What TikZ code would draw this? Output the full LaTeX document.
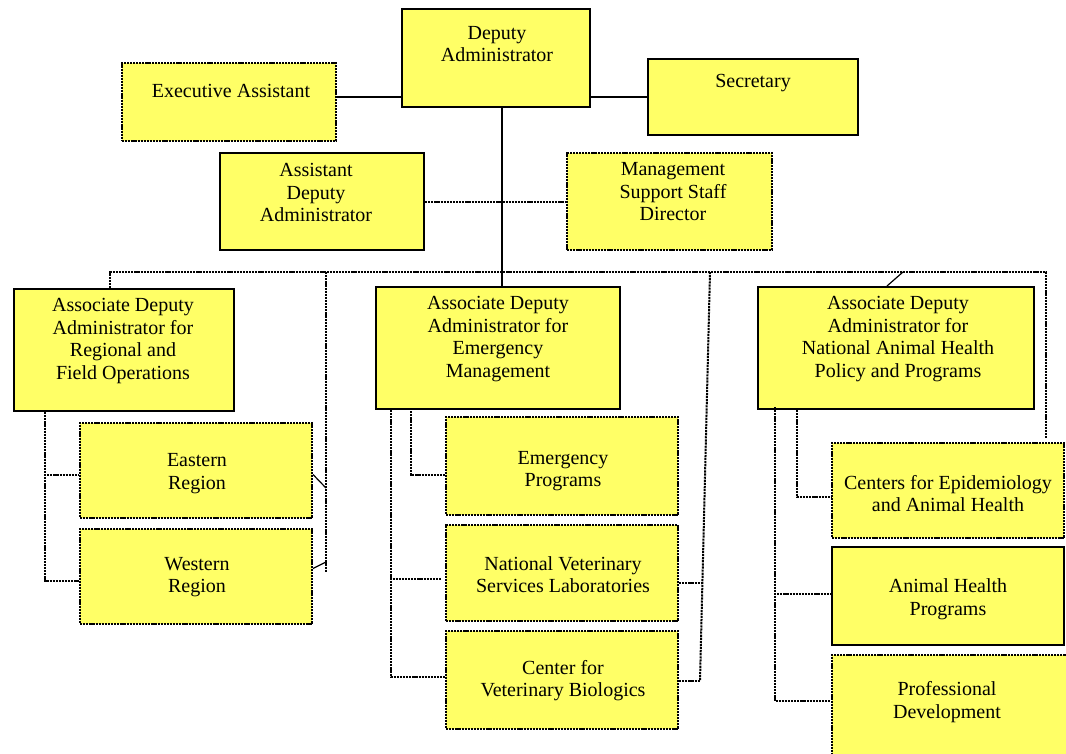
\documentclass[tikz,border=0pt]{standalone}
\usepackage{fontspec}
\setmainfont{Liberation Serif}
\usetikzlibrary{calc}
\definecolor{boxyellow}{RGB}{255,255,102}
\begin{document}
\begin{tikzpicture}[x=1pt,y=-1pt,
  boxbase/.style={rectangle, fill=boxyellow, inner sep=0pt},
  solidbox/.style={boxbase, draw=black, line width=2pt},
  dotbox/.style={boxbase, draw=black, line width=2pt, dash pattern=on 2.2pt off 0.9pt},
  txt/.style={align=center, font=\fontsize{20}{22.5}\selectfont, inner sep=0pt, text=black},
  conn/.style={draw=black, line width=2pt},
  dotconn/.style={draw=black, line width=2pt, dash pattern=on 2.2pt off 0.9pt},
  thinconn/.style={draw=black, line width=1.2pt}]
\useasboundingbox (0,0) rectangle (1066,753);
\clip (0,0) rectangle (1066,753);
\fill[white] (0,0) rectangle (1066,753);

% ---- boxes ----
\node[solidbox, minimum width=188pt, minimum height=98pt] (dep) at (496,58) {};
\node[txt] (depT) at (497,44) {Deputy\\Administrator};

\node[dotbox, minimum width=214pt, minimum height=78pt] (exe) at (229,102) {};
\node[txt] (exeT) at (231,91) {Executive Assistant};

\node[solidbox, minimum width=210pt, minimum height=76pt] (sec) at (753,97) {};
\node[txt] (secT) at (753,83) {Secretary};

\node[solidbox, minimum width=204pt, minimum height=97pt] (ada) at (322,201.5) {};
\node[txt] (adaT) at (316,192.5) {Assistant\\Deputy\\Administrator};

\node[dotbox, minimum width=205pt, minimum height=97pt] (mss) at (669.5,201.5) {};
\node[txt] (mssT) at (673,192) {Management\\Support Staff\\Director};

\node[solidbox, minimum width=220pt, minimum height=122pt] (adr) at (124,350) {};
\node[txt] (adrT) at (123,341) {Associate Deputy\\Administrator for\\Regional and\\Field Operations};

\node[dotbox, minimum width=232pt, minimum height=95pt] (east) at (196,470.5) {};
\node[txt] (eastT) at (197,473.5) {Eastern\\Region};

\node[dotbox, minimum width=232pt, minimum height=95pt] (west) at (196,576.5) {};
\node[txt] (westT) at (197,577) {Western\\Region};

\node[solidbox, minimum width=244pt, minimum height=122pt] (adem) at (498,348) {};
\node[txt] (ademT) at (498,339) {Associate Deputy\\Administrator for\\Emergency\\Management};

\node[dotbox, minimum width=232pt, minimum height=98pt] (ep) at (562,466) {};
\node[txt] (epT) at (563,471) {Emergency\\Programs};

\node[dotbox, minimum width=232pt, minimum height=96pt] (nvsl) at (562,573) {};
\node[txt] (nvslT) at (563,574.5) {National Veterinary\\Services Laboratories};

\node[dotbox, minimum width=232pt, minimum height=98pt] (cvb) at (562,680) {};
\node[txt] (cvbT) at (563,680.5) {Center for\\Veterinary Biologics};

\node[solidbox, minimum width=276pt, minimum height=122pt] (nah) at (896,348) {};
\node[txt] (nahT) at (898,339) {Associate Deputy\\Administrator for\\National Animal Health\\Policy and Programs};

\node[dotbox, minimum width=232pt, minimum height=95pt] (ceah) at (948,490.5) {};
\node[txt] (ceahT) at (948,493.5) {Centers for Epidemiology\\and Animal Health};

\node[solidbox, minimum width=232pt, minimum height=98pt] (ahp) at (948,596) {};
\node[txt] (ahpT) at (948,599) {Animal Health\\Programs};

\node[dotbox, minimum width=240pt, minimum height=110pt] (pd) at (952,710) {};
\node[txt] (pdT) at (947,702) {Professional\\Development};

% ---- top connectors ----
\coordinate (d1) at ($(dep.west)+(0,39)$);
\draw[conn] (d1) -- (d1 -| exe.east);
\coordinate (d2) at ($(dep.east)+(0,39)$);
\draw[conn] (d2) -- (d2 -| sec.west);
\draw[dotconn] (ada.east) -- (mss.west);
\coordinate (v0) at ($(dep.south)+(6,0)$);
\draw[conn] (v0) -- (v0 |- adem.north);

% ---- bus ----
\coordinate (busL) at (110,272);
\coordinate (busR) at (1046,272);
\coordinate (busRe) at ($(busR |- ceah.north)+(0,-4)$);
\draw[dotconn] (busL |- adr.north) -- (busL) -- (busR) -- (busRe);

% regional side line
\coordinate (r1) at (326,272);
\coordinate (r2) at (326,572);
\draw[dotconn] (r1) -- (r2);
\draw[thinconn] ($(east.east)+(0,4)$) -- (326,488);
\draw[thinconn] ($(west.east)+(0,-8)$) -- (326,562);

% regional children
\coordinate (a1) at ($(adr.south west)+(32,0)$);
\draw[dotconn] (a1) |- ($(east.west)+(0,4.5)$);
\draw[dotconn] (a1) |- ($(west.west)+(0,4.5)$);

% emergency children
\coordinate (e1) at ($(adem.south west)+(36,-2)$);
\draw[dotconn] (e1) |- ($(ep.west)+(0,9)$);
\coordinate (e2) at ($(adem.south west)+(16,0)$);
\draw[dotconn] (e2) |- ($(nvsl.west)+(-3,6)$);
\draw[dotconn] (e2) |- ($(cvb.west)+(0,-3)$);

% slanted line on the right of emergency
\coordinate (s1) at (710,272);
\coordinate (s2) at (700,681);
\draw[dotconn] (s1) -- (s2);
\draw[dotconn] ($(nvsl.east)+(0,10)$) -- (702,583);
\draw[dotconn] (cvb.east |- s2) -- (s2);

% national animal health
\draw[thinconn] ($(nah.north)+(-9,0)$) -- (903,272);
\coordinate (n1) at ($(nah.south west)+(40,0)$);
\draw[dotconn] (n1) |- ($(ceah.west)+(0,6.5)$);
\coordinate (n2) at ($(nah.south west)+(18,-3)$);
\draw[dotconn] (n2) |- ($(ahp.west)+(0,-2)$);
\draw[dotconn] (n2) |- (pd.west |- 0,701);
\end{tikzpicture}
\end{document}
